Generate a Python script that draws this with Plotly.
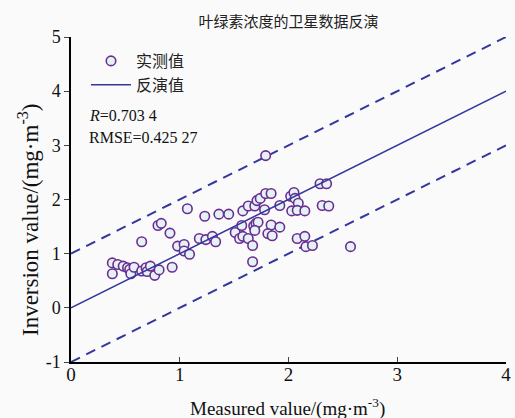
import plotly.graph_objects as go

# Measured vs. inverted chlorophyll concentration (mg·m^-3)
measured = [
    0.38, 0.38, 0.43, 0.48, 0.52, 0.54, 0.55, 0.58, 0.65, 0.65,
    0.69, 0.70, 0.73, 0.77, 0.81, 0.80, 0.83, 0.91, 0.93, 0.98,
    1.04, 1.04, 1.09, 1.07, 1.18, 1.24, 1.30, 1.33, 1.23, 1.36,
    1.45, 1.51, 1.57, 1.55, 1.58, 1.63, 1.67, 1.58, 1.63, 1.69,
    1.71, 1.74, 1.79, 1.84, 1.78, 1.79, 1.68, 1.70, 1.72, 1.69,
    1.84, 1.92, 1.81, 1.85, 1.67, 1.92, 2.02, 2.05, 2.06, 2.09,
    2.03, 2.08, 2.15, 2.29, 2.35, 2.31, 2.37, 2.08, 2.15, 2.16,
    2.22, 2.57,
]
inverted = [
    0.63, 0.83, 0.80, 0.77, 0.74, 0.71, 0.63, 0.75, 1.22, 0.68,
    0.74, 0.67, 0.77, 0.60, 0.70, 1.52, 1.56, 1.38, 0.75, 1.14,
    1.17, 1.05, 0.99, 1.83, 1.28, 1.26, 1.32, 1.22, 1.69, 1.73,
    1.73, 1.39, 1.52, 1.28, 1.32, 1.28, 1.15, 1.79, 1.88, 1.88,
    1.98, 2.02, 2.11, 2.11, 1.81, 2.81, 1.51, 1.56, 1.58, 1.43,
    1.53, 1.49, 1.37, 1.33, 0.85, 1.89, 2.06, 2.13, 2.02, 1.93,
    1.79, 1.80, 1.79, 2.29, 2.29, 1.89, 1.88, 1.28, 1.32, 1.13,
    1.15, 1.13,
]

# 1:1 inversion line and its ±1 band
line_x = [0, 4]
line_y = [0, 4]
upper_y = [1, 5]
lower_y = [-1, 3]

x_ticks = [0, 1, 2, 3, 4]
y_ticks = [-1, 0, 1, 2, 3, 4, 5]
y_tick_text = ["-1", "0", "1", "2", "3", "4", "5"]

stats_r = "<i>R</i>=0.703 4"
stats_rmse = "RMSE=0.425 27"

line_color = "#33369e"
serif = "Liberation Serif, Times New Roman, serif"
cjk = "Noto Sans CJK SC, sans-serif"

W, H = 515, 418
L, R, T, B = 71, 9, 37, 56
pw, ph = W - L - R, H - T - B


def px_x(p):
    return (p - L) / pw


def px_y(p):
    return 1 - (p - T) / ph


fig = go.Figure()

fig.add_trace(go.Scatter(
    x=line_x, y=upper_y, mode="lines", showlegend=False,
    line=dict(color=line_color, width=2, dash="10px,7px"), hoverinfo="skip",
))
fig.add_trace(go.Scatter(
    x=line_x, y=lower_y, mode="lines", showlegend=False,
    line=dict(color=line_color, width=2, dash="10px,7px"), hoverinfo="skip",
))
fig.add_trace(go.Scatter(
    x=measured, y=inverted, mode="markers", name="实测值",
    marker=dict(symbol="circle", size=9.5, color="#e4f2f3",
                line=dict(color="#6a2e92", width=1.6)),
))
fig.add_trace(go.Scatter(
    x=line_x, y=line_y, mode="lines", name="反演值",
    line=dict(color=line_color, width=1.5),
))

for txt, yp in ((stats_r, 115), (stats_rmse, 138)):
    fig.add_annotation(x=px_x(87), y=px_y(yp), xref="paper", yref="paper", text=txt,
                       showarrow=False, xanchor="left", yanchor="middle",
                       font=dict(family=serif, size=16, color="#111"))

fig.add_annotation(
    x=px_x(29), y=px_y(220), xref="paper", yref="paper",
    text="Inversion value/(mg·m<sup>-3</sup>)", textangle=-90, showarrow=False,
    xanchor="center", yanchor="middle",
    font=dict(family=serif, size=23, color="#111"),
)
fig.add_annotation(
    x=px_x(287), y=px_y(407), xref="paper", yref="paper",
    text="Measured value/(mg·m<sup>-3</sup>)", showarrow=False,
    xanchor="center", yanchor="middle",
    font=dict(family=serif, size=19, color="#111"),
)

fig.update_layout(
    width=W, height=H,
    margin=dict(l=L, r=R, t=T, b=B),
    paper_bgcolor="#fafafa", plot_bgcolor="#fafafa",
    title=dict(text="叶绿素浓度的卫星数据反演", x=0.5, xref="paper",
               y=1 - 22 / H, yref="container", xanchor="center", yanchor="middle",
               font=dict(family=cjk, size=15, color="#222")),
    legend=dict(x=px_x(86), y=px_y(44), xanchor="left", yanchor="top",
                bgcolor="rgba(0,0,0,0)", font=dict(family=cjk, size=16, color="#222"),
                tracegroupgap=0, itemwidth=40),
    xaxis=dict(range=[0, 4], tickvals=x_ticks, ticks="inside", ticklen=5,
               showline=True, linecolor="#000", linewidth=1.5, showgrid=False,
               zeroline=False, automargin=False, ticklabelstandoff=-6,
               tickfont=dict(family=serif, size=19, color="#111")),
    yaxis=dict(range=[-1, 5], tickvals=y_ticks, ticktext=y_tick_text,
               ticks="outside", ticklen=5, automargin=False,
               showline=True, linecolor="#000", linewidth=1.5, showgrid=False,
               zeroline=False, tickfont=dict(family=serif, size=18, color="#111")),
)

fig.write_html("out.html")
